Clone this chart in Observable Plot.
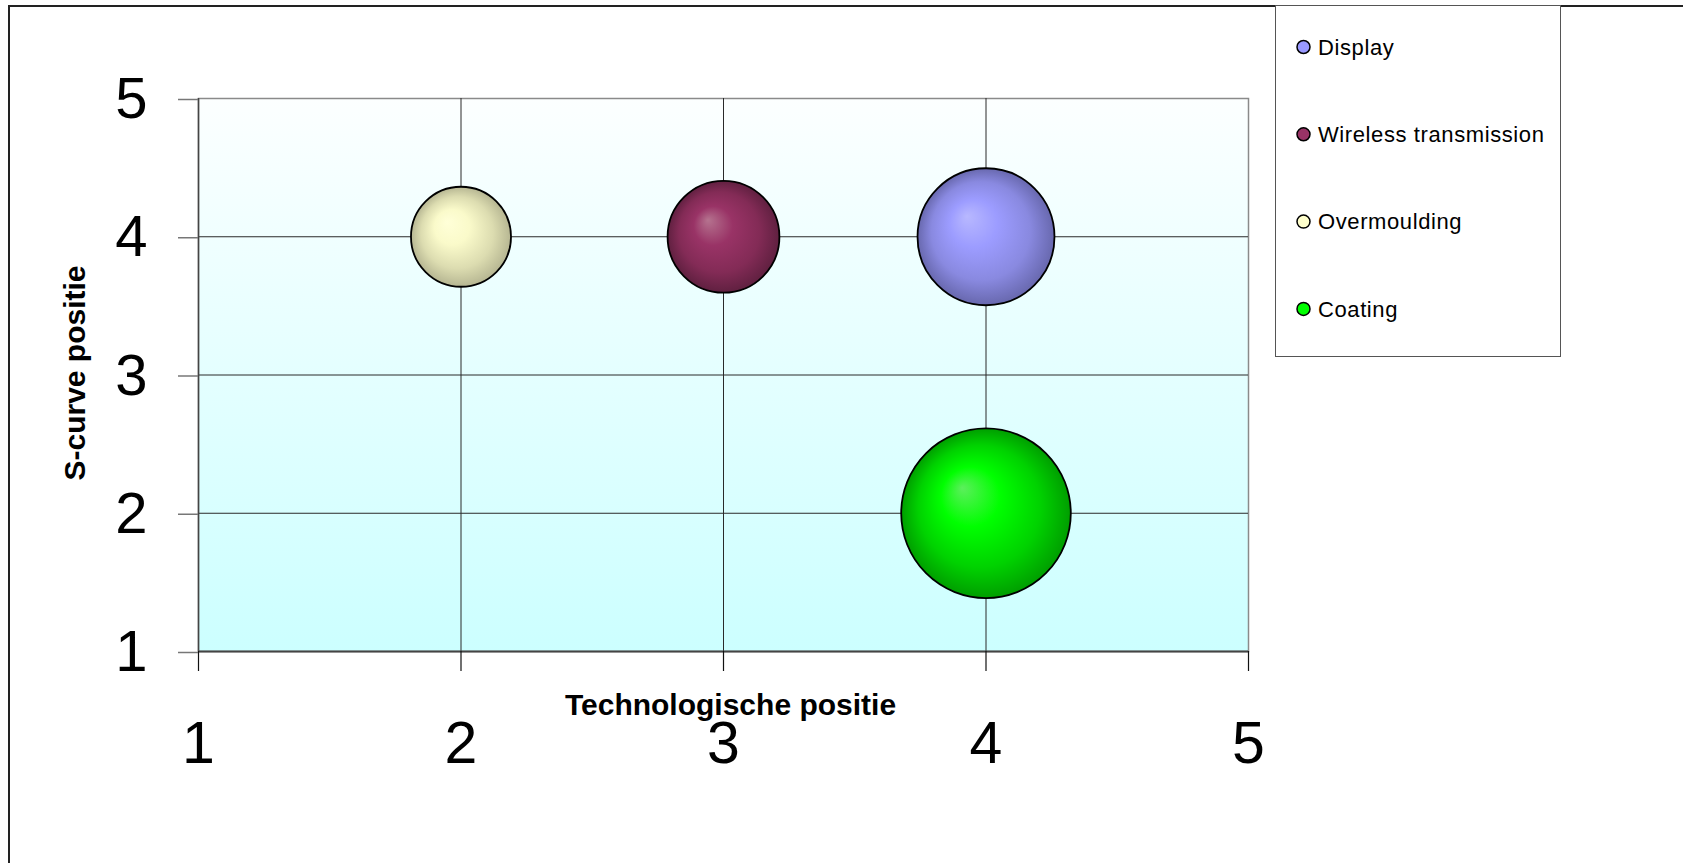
<!DOCTYPE html>
<html>
<head>
<meta charset="utf-8">
<script src="https://cdn.jsdelivr.net/npm/d3@7"></script>
<script src="https://cdn.jsdelivr.net/npm/@observablehq/plot@0.6"></script>
<style>
  html, body { margin: 0; padding: 0; background: #fff; overflow: hidden; }
  #wrap { position: relative; width: 1683px; height: 863px; font-family: "Liberation Sans", Arial, sans-serif; }
  #frame-line { position: absolute; left: 8px; top: 5px; width: 2000px; height: 2000px;
    border-left: 2px solid #222; border-top: 2px solid #222; pointer-events: none; }
  #legend { position: absolute; left: 1275px; top: 5px; width: 284px; height: 350px;
    border: 1.5px solid #555; background: #fff; }
  #legend svg { position: absolute; left: 0; top: 0; }
</style>
</head>
<body>
<div id="wrap">
  <div id="chart"></div>
  <div id="frame-line"></div>
  <div id="legend"></div>
</div>
<script>
// Series of the bubble chart
const seriesNames = ["Display", "Wireless transmission", "Overmoulding", "Coating"];
const techPosition = [4, 3, 2, 4];        // Technologische positie (x)
const sCurvePosition = [4, 4, 4, 2];      // S-curve positie (y)
const bubbleSize = [15, 10, 8, 23];       // bubble size (area)
const axisTicks = [1, 2, 3, 4, 5];
const xTitle = "Technologische positie";
const yTitle = "S-curve positie";

// Fill colours and 3D shading stops per series
const seriesColors = ["#9999FF", "#993366", "#FFFFCC", "#00FF00"];
const shadeStops = [
  ["#B8B8FF", "#9C9CFF", "#8989E0", "#6868AE"],
  ["#B5738F", "#993366", "#832B56", "#602040"],
  ["#FFFFD8", "#FAFACA", "#DCDCB0", "#B6B692"],
  ["#5CEF5C", "#00FF00", "#00D200", "#009E00"]
];
const stopOffsets = [0, 0.35, 0.72, 1];

const rows = seriesNames.map((name, i) => ({
  name,
  x: techPosition[i],
  y: sCurvePosition[i],
  size: bubbleSize[i],
  fill: `url(#bubble-${i})`
}));

const chart = Plot.plot({
  width: 1683,
  height: 863,
  marginLeft: 198,
  marginRight: 435,
  marginTop: 98,
  marginBottom: 212,
  style: { fontFamily: "'Liberation Sans', Arial, sans-serif", background: "transparent", overflow: "visible" },
  x: { domain: [1, 5] },
  y: { domain: [1, 5] },
  r: { type: "sqrt", domain: [0, 23], range: [0, 84.8] },
  color: { type: "identity" },
  marks: [
    Plot.frame({ fill: "url(#plot-bg)", stroke: "#8a8a8a", strokeWidth: 1.5 }),
    Plot.gridX(axisTicks.slice(1, -1), { stroke: "#2a2a2a", strokeOpacity: 1, strokeWidth: 1 }),
    Plot.gridY(axisTicks.slice(1, -1), { stroke: "#2a2a2a", strokeOpacity: 1, strokeWidth: 1 }),
    Plot.ruleY([1], { stroke: "#444", strokeWidth: 2 }),
    Plot.ruleX([1], { stroke: "#444", strokeWidth: 1.5 }),
    Plot.axisX(axisTicks, {
      tickSize: 20, tickPadding: 50, fontSize: 59, label: null,
      stroke: "#111", strokeWidth: 1.2, fill: "#000", tickFormat: d => String(d)
    }),
    Plot.axisY(axisTicks, {
      tickSize: 20, tickPadding: 31, fontSize: 58, label: null, dy: 1,
      stroke: "#777", strokeWidth: 1.5, fill: "#000", tickFormat: d => String(d)
    }),
    Plot.text([xTitle], {
      frameAnchor: "bottom", dx: 7, dy: 54, lineAnchor: "middle", textAnchor: "middle",
      fontSize: 30, fontWeight: "bold", fill: "#000"
    }),
    Plot.text([yTitle], {
      frameAnchor: "left", dx: -123, dy: -2, rotate: -90, lineAnchor: "middle", textAnchor: "middle",
      fontSize: 30, fontWeight: "bold", fill: "#000"
    }),
    Plot.dot(rows, {
      x: "x", y: "y", r: "size", fill: "fill",
      stroke: "#000", strokeWidth: 1.8
    })
  ]
});

// Gradients: plot background and shaded bubbles
const svg = d3.select(chart.tagName === "svg" ? chart : chart.querySelector("svg"));
const defs = svg.insert("defs", ":first-child");
const bg = defs.append("linearGradient").attr("id", "plot-bg")
  .attr("x1", 0).attr("y1", 0).attr("x2", 0).attr("y2", 1);
bg.append("stop").attr("offset", 0).attr("stop-color", "#FCFFFF");
bg.append("stop").attr("offset", 1).attr("stop-color", "#CCFFFF");

shadeStops.forEach((stops, i) => {
  const g = defs.append("radialGradient").attr("id", `bubble-${i}`)
    .attr("cx", 0.5).attr("cy", 0.5).attr("r", 0.5)
    .attr("fx", 0.36).attr("fy", 0.35);
  stops.forEach((c, k) => g.append("stop").attr("offset", stopOffsets[k]).attr("stop-color", c));
});

document.getElementById("chart").appendChild(chart);

// Legend box
const legend = d3.select("#legend").append("svg").attr("width", 284).attr("height", 350);
const entry = legend.selectAll("g").data(seriesNames).join("g")
  .attr("transform", (d, i) => `translate(0, ${41 + i * 87.3})`);
entry.append("circle").attr("cx", 27.5).attr("cy", 0).attr("r", 6.5)
  .attr("fill", (d, i) => seriesColors[i]).attr("stroke", "#000").attr("stroke-width", 1.5);
entry.append("text").attr("x", 42).attr("y", 0).attr("dy", "0.35em")
  .attr("font-family", "'Liberation Sans', Arial, sans-serif").attr("font-size", 22)
  .attr("letter-spacing", 0.6).attr("fill", "#000").text(d => d);
</script>
</body>
</html>
